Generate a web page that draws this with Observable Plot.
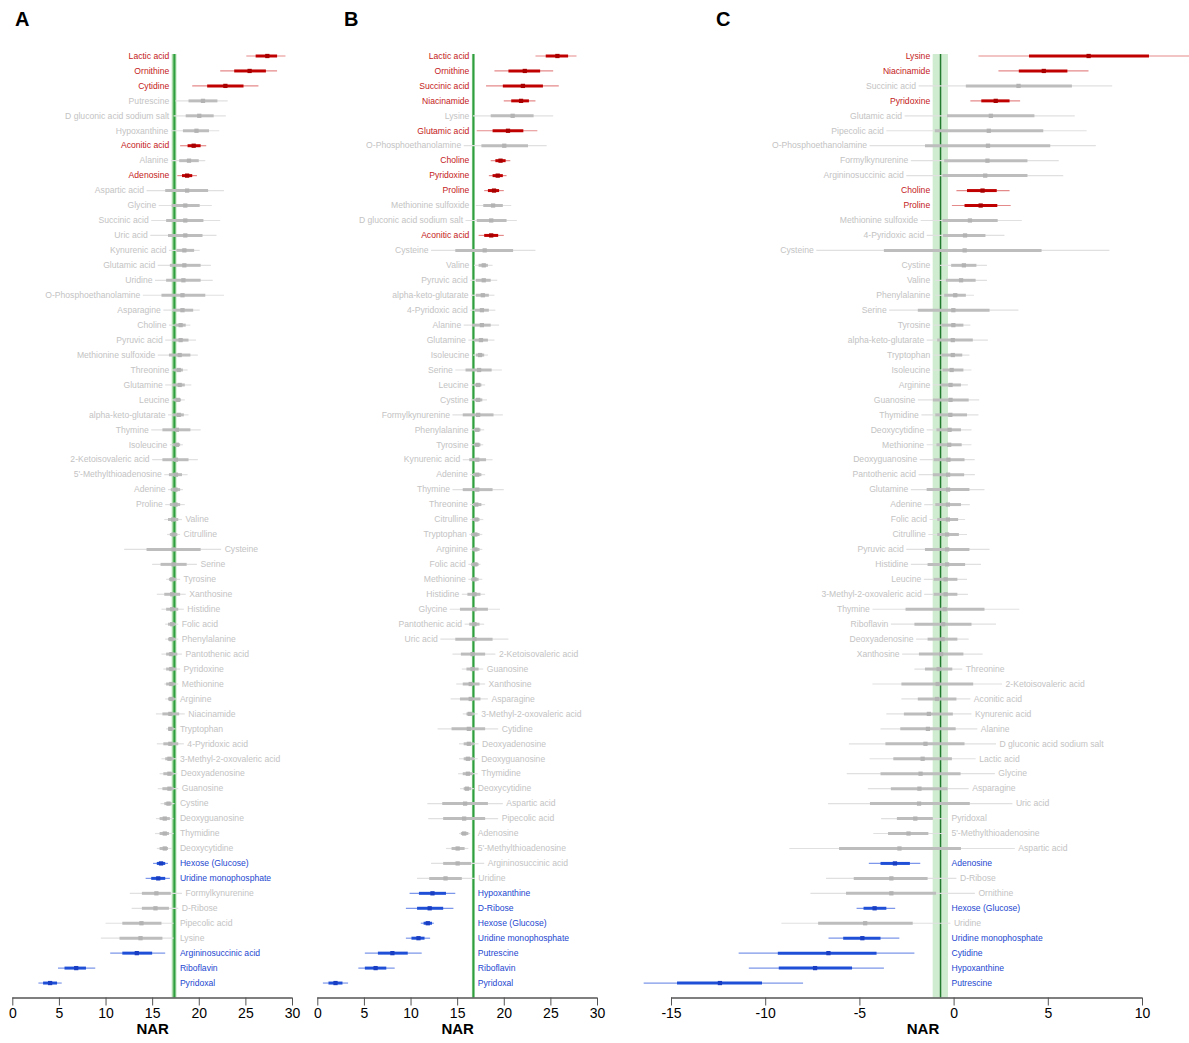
<!DOCTYPE html>
<html><head><meta charset="utf-8">
<script src="https://cdn.jsdelivr.net/npm/d3@7"></script>
<script src="https://cdn.jsdelivr.net/npm/@observablehq/plot@0.6"></script>
<style>
body{margin:0;background:#fff;font-family:"Liberation Sans",Arial,sans-serif;}
#wrap{position:relative;width:1189px;height:1043px;overflow:hidden;background:#fff;}
.pl{position:absolute;top:0;}
.tag{position:absolute;top:8px;font:bold 20px "Liberation Sans",Arial,sans-serif;color:#000;}
</style></head>
<body><div id="wrap"></div>
<script>
// ---------- Panel A ----------
const namesA = ["Lactic acid","Ornithine","Cytidine","Putrescine","D gluconic acid sodium salt","Hypoxanthine","Aconitic acid","Alanine","Adenosine","Aspartic acid","Glycine","Succinic acid","Uric acid","Kynurenic acid","Glutamic acid","Uridine","O-Phosphoethanolamine","Asparagine","Choline","Pyruvic acid","Methionine sulfoxide","Threonine","Glutamine","Leucine","alpha-keto-glutarate","Thymine","Isoleucine","2-Ketoisovaleric acid","5'-Methylthioadenosine","Adenine","Proline","Valine","Citrulline","Cysteine","Serine","Tyrosine","Xanthosine","Histidine","Folic acid","Phenylalanine","Pantothenic acid","Pyridoxine","Methionine","Arginine","Niacinamide","Tryptophan","4-Pyridoxic acid","3-Methyl-2-oxovaleric acid","Deoxyadenosine","Guanosine","Cystine","Deoxyguanosine","Thymidine","Deoxycytidine","Hexose (Glucose)","Uridine monophosphate","Formylkynurenine","D-Ribose","Pipecolic acid","Lysine","Argininosuccinic acid","Riboflavin","Pyridoxal"];
const sigA = ["up","up","up","ns","ns","ns","up","ns","up","ns","ns","ns","ns","ns","ns","ns","ns","ns","ns","ns","ns","ns","ns","ns","ns","ns","ns","ns","ns","ns","ns","ns","ns","ns","ns","ns","ns","ns","ns","ns","ns","ns","ns","ns","ns","ns","ns","ns","ns","ns","ns","ns","ns","ns","down","down","ns","ns","ns","ns","down","down","down"];
const medA  = [27.3,25.4,22.8,20.4,20.0,19.7,19.4,18.9,18.7,18.7,18.5,18.5,18.5,18.4,18.4,18.3,18.2,18.2,18.0,18.0,17.9,17.8,17.9,17.7,17.8,17.6,17.6,17.5,17.5,17.45,17.45,17.2,17.25,17.25,17.25,17.1,17.1,17.1,17.1,17.0,17.0,17.0,17.0,17.0,16.9,16.9,16.9,16.8,16.8,16.8,16.7,16.3,16.3,16.3,15.9,15.6,15.4,15.3,13.8,13.7,13.3,6.8,4.0];
const lo95A = [25.1,22.3,19.3,17.5,17.3,17.0,18.0,17.0,17.7,14.4,15.7,14.9,14.8,16.8,15.6,15.3,14.0,16.2,16.8,16.4,15.6,17.1,16.4,17.1,16.7,14.9,16.9,15.0,16.3,16.7,16.4,16.3,16.6,12.0,15.0,16.5,15.5,16.0,16.4,16.4,16.0,16.2,16.3,16.4,15.4,16.5,15.5,16.0,15.8,15.6,15.9,15.4,15.3,15.5,15.1,14.3,12.6,12.8,10.0,9.5,10.5,4.9,2.8];
const hi95A = [29.3,28.4,26.4,23.1,22.9,22.2,20.8,20.7,19.8,22.7,21.4,22.3,21.9,20.1,21.3,21.5,22.7,20.1,19.1,19.7,19.9,18.8,19.2,18.5,18.9,20.2,18.3,19.9,18.8,18.3,18.5,18.2,18.0,22.4,19.8,18.0,18.6,18.4,17.8,17.8,18.2,18.0,17.8,17.6,18.5,17.5,18.4,17.6,17.7,17.8,17.4,17.3,17.3,17.1,16.7,16.9,18.2,17.8,17.3,17.3,16.4,8.9,5.3];
const lo50A = [26.1,23.8,20.9,18.9,18.6,18.3,18.8,17.9,18.2,16.4,17.1,16.5,16.7,17.6,16.9,16.5,16.0,17.2,17.4,17.2,16.8,17.3,17.2,17.3,17.2,16.1,17.2,16.1,16.8,17.0,16.9,16.7,16.9,14.4,15.9,16.8,16.3,16.5,16.7,16.7,16.5,16.5,16.5,16.7,16.1,16.7,16.2,16.4,16.2,16.1,16.3,15.8,15.8,15.8,15.5,14.9,13.9,13.9,11.8,11.5,11.8,5.6,3.3];
const hi50A = [28.4,27.2,24.8,22.0,21.6,21.1,20.2,20.0,19.3,21.0,20.1,20.5,20.4,19.5,20.2,20.2,20.7,19.4,18.6,18.9,19.1,18.3,18.5,18.1,18.4,19.1,18.0,18.9,18.2,18.0,18.0,17.8,17.7,20.2,18.7,17.6,18.0,17.8,17.5,17.5,17.7,17.6,17.5,17.4,17.9,17.3,17.8,17.3,17.3,17.3,17.1,16.9,16.8,16.7,16.4,16.4,17.0,16.8,16.0,16.1,15.0,7.9,4.8];
const refA = [17.33, 17.1, 17.6];   // line, band low, band high
const ticksAB = [0,5,10,15,20,25,30];

// ---------- Panel B ----------
const namesB = ["Lactic acid","Ornithine","Succinic acid","Niacinamide","Lysine","Glutamic acid","O-Phosphoethanolamine","Choline","Pyridoxine","Proline","Methionine sulfoxide","D gluconic acid sodium salt","Aconitic acid","Cysteine","Valine","Pyruvic acid","alpha-keto-glutarate","4-Pyridoxic acid","Alanine","Glutamine","Isoleucine","Serine","Leucine","Cystine","Formylkynurenine","Phenylalanine","Tyrosine","Kynurenic acid","Adenine","Thymine","Threonine","Citrulline","Tryptophan","Arginine","Folic acid","Methionine","Histidine","Glycine","Pantothenic acid","Uric acid","2-Ketoisovaleric acid","Guanosine","Xanthosine","Asparagine","3-Methyl-2-oxovaleric acid","Cytidine","Deoxyadenosine","Deoxyguanosine","Thymidine","Deoxycytidine","Aspartic acid","Pipecolic acid","Adenosine","5'-Methylthioadenosine","Argininosuccinic acid","Uridine","Hypoxanthine","D-Ribose","Hexose (Glucose)","Uridine monophosphate","Putrescine","Riboflavin","Pyridoxal"];
const sigB = ["up","up","up","up","ns","up","ns","up","up","up","ns","ns","up","ns","ns","ns","ns","ns","ns","ns","ns","ns","ns","ns","ns","ns","ns","ns","ns","ns","ns","ns","ns","ns","ns","ns","ns","ns","ns","ns","ns","ns","ns","ns","ns","ns","ns","ns","ns","ns","ns","ns","ns","ns","ns","ns","down","down","down","down","down","down","down"];
const medB  = [25.7,22.2,22.0,21.8,20.9,20.4,20.0,19.6,19.3,18.9,18.8,18.6,18.6,17.9,17.8,17.8,17.7,17.6,17.6,17.5,17.4,17.3,17.2,17.2,17.2,17.1,17.1,17.1,17.1,17.1,17.0,17.0,16.9,16.9,16.9,16.8,16.8,16.8,16.8,16.8,16.6,16.6,16.4,16.4,16.3,16.2,16.2,16.1,16.1,16.0,15.8,15.7,15.7,15.0,15.0,13.7,12.3,12.0,11.8,10.8,8.0,6.2,1.9];
const lo95B = [23.4,19.0,18.1,20.0,16.7,17.1,15.7,18.6,18.4,17.9,17.0,15.9,17.3,12.2,16.8,16.4,16.5,16.4,15.7,16.2,16.7,14.8,16.5,16.5,14.5,16.5,16.5,15.6,16.4,14.5,16.4,16.4,16.3,16.4,16.2,16.2,15.5,14.2,15.8,13.2,14.5,15.5,14.9,14.3,15.6,12.9,15.2,15.2,15.1,15.3,11.8,11.9,15.2,13.8,12.2,10.7,9.9,9.5,11.1,9.5,5.1,4.4,0.6];
const hi95B = [27.8,25.3,25.9,23.4,25.3,23.6,24.6,20.7,20.3,20.0,20.8,21.4,20.0,23.4,18.8,19.3,19.0,19.1,19.5,19.0,18.3,19.8,18.0,18.2,19.9,17.9,17.8,18.8,18.0,20.0,18.0,17.8,17.7,17.7,17.5,17.7,18.0,19.6,17.9,20.5,19.1,17.8,18.0,18.3,17.2,19.4,17.3,17.2,17.2,16.8,19.9,19.4,16.4,16.2,17.9,16.9,14.8,14.6,12.5,12.1,11.2,8.3,3.3];
const lo50B = [24.5,20.5,19.9,20.8,18.6,18.8,17.6,19.1,18.8,18.3,17.8,17.1,17.9,14.8,17.3,17.0,17.0,16.9,16.6,16.8,17.0,15.9,16.8,16.8,15.6,16.8,16.8,16.3,16.7,15.6,16.7,16.6,16.5,16.6,16.5,16.5,16.1,15.3,16.3,14.8,15.4,16.0,15.6,15.3,16.0,14.4,15.7,15.7,15.6,15.7,13.4,13.5,15.4,14.4,13.5,12.0,10.9,10.7,11.4,10.1,6.5,5.1,1.2];
const hi50B = [26.9,23.9,24.2,22.7,23.2,22.1,22.6,20.2,19.9,19.5,19.9,20.3,19.4,21.0,18.3,18.6,18.4,18.4,18.6,18.3,17.9,18.7,17.6,17.7,18.9,17.5,17.5,18.1,17.6,18.8,17.6,17.4,17.4,17.4,17.3,17.3,17.5,18.3,17.4,18.8,18.0,17.3,17.4,17.5,16.8,18.0,16.8,16.8,16.7,16.5,18.3,18.0,16.2,15.8,16.5,15.5,13.8,13.5,12.3,11.5,9.7,7.4,2.7];
const refB = [16.7, 16.58, 16.84];

// ---------- Panel C ----------
const namesC = ["Lysine","Niacinamide","Succinic acid","Pyridoxine","Glutamic acid","Pipecolic acid","O-Phosphoethanolamine","Formylkynurenine","Argininosuccinic acid","Choline","Proline","Methionine sulfoxide","4-Pyridoxic acid","Cysteine","Cystine","Valine","Phenylalanine","Serine","Tyrosine","alpha-keto-glutarate","Tryptophan","Isoleucine","Arginine","Guanosine","Thymidine","Deoxycytidine","Methionine","Deoxyguanosine","Pantothenic acid","Glutamine","Adenine","Folic acid","Citrulline","Pyruvic acid","Histidine","Leucine","3-Methyl-2-oxovaleric acid","Thymine","Riboflavin","Deoxyadenosine","Xanthosine","Threonine","2-Ketoisovaleric acid","Aconitic acid","Kynurenic acid","Alanine","D gluconic acid sodium salt","Lactic acid","Glycine","Asparagine","Uric acid","Pyridoxal","5'-Methylthioadenosine","Aspartic acid","Adenosine","D-Ribose","Ornithine","Hexose (Glucose)","Uridine","Uridine monophosphate","Cytidine","Hypoxanthine","Putrescine"];
const sigC = ["up","up","ns","up","ns","ns","ns","ns","ns","up","up","ns","ns","ns","ns","ns","ns","ns","ns","ns","ns","ns","ns","ns","ns","ns","ns","ns","ns","ns","ns","ns","ns","ns","ns","ns","ns","ns","ns","ns","ns","ns","ns","ns","ns","ns","ns","ns","ns","ns","ns","ns","ns","ns","down","ns","ns","down","ns","down","down","down","down"];
const medC  = [7.14,4.76,3.42,2.21,1.95,1.84,1.80,1.77,1.65,1.51,1.41,0.84,0.58,0.56,0.52,0.37,0.06,-0.04,-0.04,-0.07,-0.07,-0.13,-0.19,-0.19,-0.20,-0.24,-0.26,-0.30,-0.32,-0.32,-0.33,-0.33,-0.37,-0.37,-0.37,-0.45,-0.45,-0.50,-0.58,-0.61,-0.69,-0.82,-0.87,-0.91,-1.34,-1.39,-1.52,-1.67,-1.78,-1.84,-1.86,-2.06,-2.42,-2.90,-3.14,-3.33,-3.33,-4.22,-4.72,-4.87,-6.67,-7.38,-12.43];
const lo95C = [1.32,2.38,-1.86,0.89,-2.60,-3.57,-4.46,-2.27,-2.51,0.15,-0.09,-1.75,-1.43,-7.29,-0.72,-0.97,-0.97,-3.42,-1.06,-1.43,-1.06,-1.10,-1.10,-1.90,-1.71,-1.43,-1.43,-1.80,-1.86,-2.27,-1.56,-1.28,-1.34,-2.51,-2.27,-1.58,-1.56,-4.31,-3.33,-1.99,-2.73,-2.08,-4.31,-2.77,-3.57,-3.88,-5.56,-4.46,-5.67,-4.55,-6.67,-3.85,-4.26,-8.72,-4.50,-6.77,-7.60,-5.15,-9.14,-6.64,-11.41,-10.87,-16.45];
const hi95C = [12.6,7.16,8.42,3.53,6.43,7.06,7.55,5.58,5.82,2.97,3.03,3.62,2.70,8.27,1.77,1.77,1.08,3.44,0.89,1.82,0.84,0.95,0.76,1.36,1.32,0.95,0.95,1.12,1.13,1.64,0.86,0.61,0.71,1.91,1.45,0.71,0.76,3.49,2.25,0.80,1.54,0.46,2.57,0.89,0.95,1.26,2.25,1.17,2.19,0.80,3.12,-0.32,-0.46,3.25,-1.77,0.15,1.13,-3.10,-0.17,-2.88,-2.08,-3.70,-7.99];
const lo50C = [4.0,3.46,0.65,1.47,-0.35,-1.00,-1.52,-0.50,-0.59,0.71,0.58,-0.59,-0.56,-3.70,-0.13,-0.41,-0.50,-1.90,-0.65,-0.87,-0.65,-0.59,-0.69,-1.10,-0.97,-0.91,-0.91,-1.06,-1.10,-1.43,-0.97,-0.87,-0.87,-1.52,-1.38,-1.06,-1.06,-2.55,-2.08,-1.38,-1.84,-1.52,-2.77,-1.90,-2.64,-2.83,-3.62,-3.20,-3.88,-3.33,-4.44,-3.01,-3.48,-6.08,-3.88,-5.30,-5.71,-4.78,-7.19,-5.86,-9.33,-9.28,-14.68];
const hi50C = [10.37,6.04,6.28,2.97,4.29,4.76,5.13,3.92,3.92,2.29,2.32,2.34,1.69,4.67,1.21,1.17,0.65,1.91,0.52,1.02,0.46,0.52,0.39,0.80,0.71,0.39,0.43,0.58,0.56,0.84,0.39,0.24,0.28,0.84,0.61,0.20,0.20,1.64,0.95,0.20,0.52,-0.07,1.04,0.15,-0.04,0.11,0.58,-0.09,0.37,-0.32,0.86,-1.10,-1.34,0.39,-2.32,-1.38,-0.93,-3.57,-2.17,-3.88,-4.09,-5.39,-10.17];
const refC = [-0.72, -1.11, -0.30];
const ticksC = [-15,-10,-5,0,5,10];

// ---------- styles ----------
const txtCol   = {up:"#c41a1a", down:"#2347d0", ns:"#c3c3c3"};
const thickCol = {up:"#c00000", down:"#1f4fd6", ns:"#bdbdbd"};
const thinCol  = {up:"#e58a8a", down:"#7d97ea", ns:"#e0e0e0"};
const medCol   = {up:"#a80000", down:"#1a3ec2", ns:"#b3b3b3"};

function panel(p) {
  const rows = p.names.map((n, i) => {
    const d = {name: n, i, sig: p.sig[i], med: p.med[i], lo50: p.lo50[i], hi50: p.hi50[i], lo95: p.lo95[i], hi95: p.hi95[i]};
    d.left = d.med > p.ref[0];
    d.lx = d.left ? Math.min(p.ref[1], d.lo95) : Math.max(p.ref[2], d.hi95);
    return d;
  });
  const n = rows.length;
  return Plot.plot({
    width: p.width, height: 1043,
    marginTop: 55.5, marginBottom: 45.5, marginLeft: p.ml, marginRight: p.mr,
    style: {fontFamily: '"Liberation Sans", Arial, sans-serif', background: "transparent", overflow: "visible"},
    x: {domain: [p.ticks[0], p.ticks[p.ticks.length - 1]], axis: null},
    y: {domain: [n, 0], axis: null},
    color: {type: "identity"},
    marks: [
      Plot.rect([p.ref], {x1: d => d[1], x2: d => d[2], y1: -0.1, y2: n, fill: p.bandCol}),
      Plot.ruleX([p.ref[0]], {y1: -0.1, y2: n, stroke: p.lineCol, strokeWidth: p.lineW}),
      Plot.ruleY(rows, {y: "i", x1: "lo95", x2: "hi95", stroke: d => thinCol[d.sig], strokeWidth: 1.2}),
      Plot.ruleY(rows, {y: "i", x1: "lo50", x2: "hi50", stroke: d => thickCol[d.sig], strokeWidth: 3}),
      Plot.dot(rows, {x: "med", y: "i", symbol: "square", r: 2.4, fill: d => medCol[d.sig], stroke: null}),
      Plot.text(rows.filter(d => d.left), {x: "lx", y: "i", text: "name", textAnchor: "end", dx: -3, fill: d => txtCol[d.sig], fontSize: 8.6}),
      Plot.text(rows.filter(d => !d.left), {x: "lx", y: "i", text: "name", textAnchor: "start", dx: 3, fill: d => txtCol[d.sig], fontSize: 8.6}),
      Plot.ruleY([n], {x1: p.ticks[0], x2: p.ticks[p.ticks.length - 1], stroke: "#555", strokeWidth: 1.5}),
      Plot.axisX({ticks: p.ticks, tickFormat: d => String(d), tickSize: 8, tickPadding: 2, fontSize: 14, stroke: "#555", fill: "#000", label: null}),
      Plot.text(["NAR"], {frameAnchor: "bottom", dy: 36, dx: p.nardx, text: d => d, fontSize: 15, fontWeight: "bold", fill: "#000"})
    ]
  });
}

const wrap = document.getElementById("wrap");
function place(svg, left) { svg.classList.add("pl"); svg.style.left = left + "px"; wrap.appendChild(svg); }

place(panel({names: namesA, sig: sigA, med: medA, lo50: lo50A, hi50: hi50A, lo95: lo95A, hi95: hi95A, ref: refA, ticks: ticksAB,
  width: 305, ml: 12.3, mr: 13, bandCol: "#a9dba9", lineCol: "#2e9e3e", lineW: 2, nardx: 0}), 0);
place(panel({names: namesB, sig: sigB, med: medB, lo50: lo50B, hi50: hi50B, lo95: lo95B, hi95: hi95B, ref: refB, ticks: ticksAB,
  width: 305, ml: 12.3, mr: 13, bandCol: "#a9dba9", lineCol: "#2e9e3e", lineW: 2, nardx: 0}), 305);
place(panel({names: namesC, sig: sigC, med: medC, lo50: lo50C, hi50: hi50C, lo95: lo95C, hi95: hi95C, ref: refC, ticks: ticksC,
  width: 549, ml: 31, mr: 47, bandCol: "#d0ecd0", lineCol: "#217a2e", lineW: 1.5, nardx: 16}), 640);

[["A", 15], ["B", 344], ["C", 716]].forEach(([t, x]) => {
  const d = document.createElement("div"); d.className = "tag"; d.textContent = t; d.style.left = x + "px"; wrap.appendChild(d);
});
</script></body></html>
